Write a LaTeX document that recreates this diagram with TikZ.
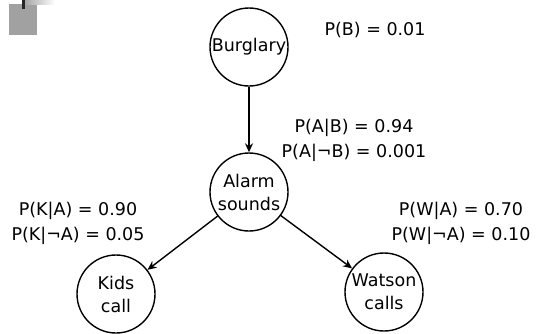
\documentclass[tikz,border=0pt]{standalone}
\usepackage{fontspec}
\setmainfont{DejaVu Sans}
\usetikzlibrary{arrows.meta}
\begin{document}
\begin{tikzpicture}[x=1pt,y=-1pt,
  event/.style={draw,circle,line width=1.4pt,minimum size=78pt,inner sep=0pt,align=center,
    font=\fontsize{17.5}{23}\selectfont},
  prob/.style={align=center,inner sep=0pt,font=\fontsize{17.5}{25}\selectfont},
  link/.style={line width=1.4pt,-{Stealth[length=9pt,width=8pt]}}]
\useasboundingbox (0,0) rectangle (545,333);
\fill[black!37] (9,4) rectangle (37,35);
\shade[left color=black!35,right color=white] (25,0) rectangle (55,4);
\fill[black!85] (22,0) rectangle (25,9);
\node[event] (b) at (249,47) {Burglary};
\node[event] (a) at (249,192) {Alarm\\sounds};
\node[event] (k) at (116,294) {Kids\\call};
\node[event] (w) at (384,292) {Watson\\calls};
\draw[link] (b) -- (a);
\draw[link] (a) -- (k);
\draw[link] (a) -- (w);
\node[prob] (pb) at (375,30) {P(B) = 0.01};
\node[prob] (pa) at (354,140) {P(A|B) = 0.94\\P(A|¬B) = 0.001};
\node[prob] (pk) at (78,223) {P(K|A) = 0.90\\P(K|¬A) = 0.05};
\node[prob] (pw) at (461,223) {P(W|A) = 0.70\\P(W|¬A) = 0.10};
\end{tikzpicture}
\end{document}
